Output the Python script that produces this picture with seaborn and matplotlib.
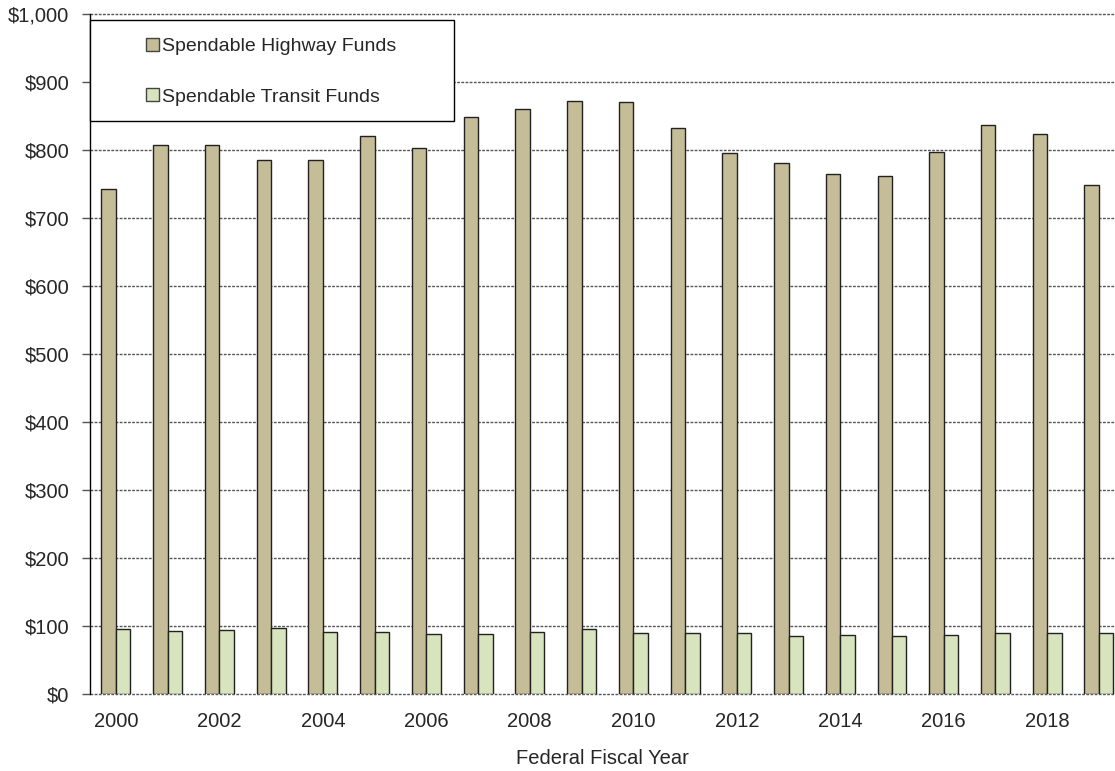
import matplotlib
matplotlib.use("Agg")
import matplotlib.pyplot as plt
from matplotlib.patches import Rectangle
from matplotlib.ticker import FuncFormatter
import seaborn as sns
import pandas as pd

# values (millions of dollars)
years = [str(y) for y in range(2000, 2020)]
highway = [742, 807, 808, 785, 786, 820, 803, 849, 861, 872,
           870, 833, 795, 781, 765, 762, 797, 837, 824, 749]
transit = [95, 92, 94, 97, 91, 91, 88, 88, 91, 95,
           90, 90, 90, 86, 87, 86, 87, 90, 89, 90]
series_names = ["Spendable Highway Funds", "Spendable Transit Funds"]
colors = ["#C4BD97", "#D7E4BD"]
tick_years = years[::2]

df = pd.DataFrame({
    "Year": years * 2,
    "Value": highway + transit,
    "Series": [series_names[0]] * len(years) + [series_names[1]] * len(years),
})

sns.set_style("white")
plt.rcParams["font.family"] = ["Liberation Sans", "DejaVu Sans"]

fig = plt.figure(figsize=(11.15, 7.71), dpi=100)
ax = fig.add_axes([90 / 1115, 1 - 694 / 771, 1 - 90 / 1115, (694 - 14) / 771])

sns.barplot(data=df, x="Year", y="Value", hue="Series", order=years,
            hue_order=series_names, palette=colors, width=0.56,
            edgecolor="#222222", linewidth=1.0, saturation=1, ax=ax,
            legend=False, zorder=3)

ax.set_ylim(0, 1000)
ax.set_xlim(-0.5, 19.31)
ax.set_yticks(range(0, 1001, 100))
ax.yaxis.set_major_formatter(FuncFormatter(lambda v, p: f"${v:,.0f}"))
ax.set_xticks(range(0, 20, 2))
ax.set_xticklabels(tick_years)

ax.grid(axis="y", color="#555555", linestyle=(0, (2, 1)), linewidth=1.0, zorder=0)
ax.set_axisbelow(True)
for line in ax.get_ygridlines():
    line.set_clip_on(False)
for s in ["top", "right", "bottom"]:
    ax.spines[s].set_visible(False)
ax.spines["left"].set_color("#000000")
ax.spines["left"].set_linewidth(1.0)

ax.tick_params(axis="y", length=6, width=1, color="#555555", pad=9, labelsize=14.5, left=True)
ax.tick_params(axis="x", length=0, pad=13, labelsize=14.5)
ax.set_xlabel("Federal Fiscal Year", fontsize=14.5, labelpad=13)
ax.set_ylabel("")

# legend box
box = Rectangle((90 / 1115, 1 - 121 / 771), 364 / 1115, 101 / 771,
                transform=fig.transFigure, facecolor="white",
                edgecolor="#000000", linewidth=1.0, zorder=5)
fig.patches.append(box)

handles = [Rectangle((0, 0), 1, 1, facecolor=c, edgecolor="#444444", linewidth=1.0)
           for c in colors]
leg = fig.legend(handles, series_names, loc="upper left",
                 bbox_to_anchor=(146 / 1115, 1 - 38 / 771),
                 bbox_transform=fig.transFigure, frameon=False,
                 fontsize=14, handlelength=0.65, handleheight=0.65,
                 handletextpad=0.15, labelspacing=1.7, borderpad=0,
                 borderaxespad=0)
leg.set_zorder(6)

fig.savefig("out.png", dpi=100)
